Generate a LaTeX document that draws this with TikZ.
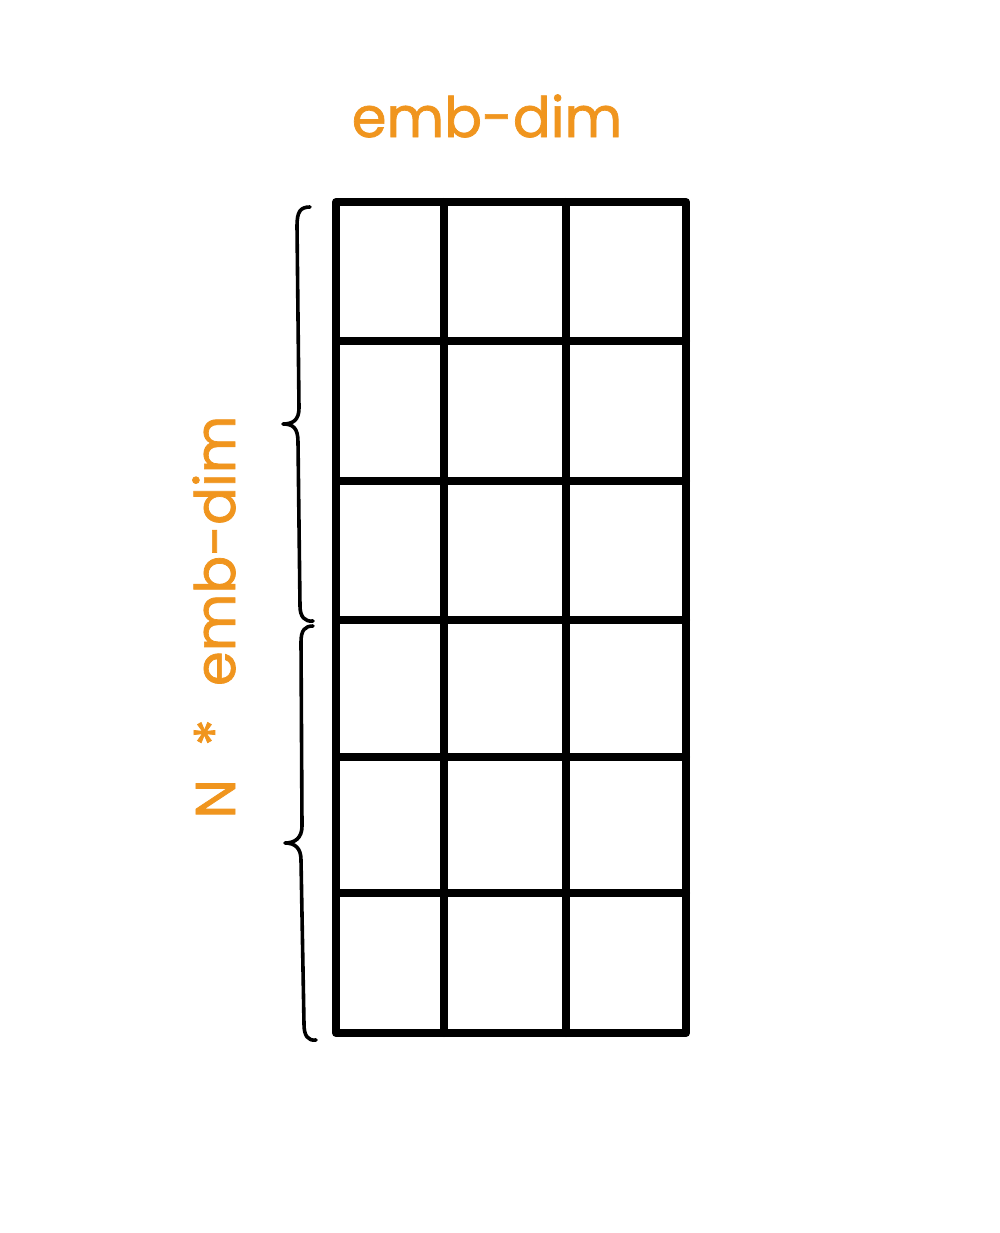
\documentclass[tikz,border=0pt]{standalone}
\usepackage{fontspec}
\newfontfamily\handfont{Poppins}[UprightFeatures={FakeBold=1.3}]
\definecolor{hand}{HTML}{F0951E}
\begin{document}
\begin{tikzpicture}[x=1pt,y=-1pt,
  gridline/.style={line width=8pt,line cap=round,line join=round},
  bracepath/.style={line width=3.6pt,line cap=round,line join=round},
  label/.style={text=hand,font=\handfont\fontsize{56}{66}\selectfont,inner sep=0pt}]
\useasboundingbox[fill=white] (0,0) rectangle (999,1233);
% grid
\coordinate (g00) at (336,202);
\coordinate (g11) at (686,1033);
\draw[gridline] (g00) rectangle (g11);
\foreach \x in {444,566} \draw[gridline] (\x,202) -- (\x,1033);
\foreach \y in {341,481,620,757,893} \draw[gridline] (336,\y) -- (686,\y);
% braces
\coordinate (b1t) at (310,207);
\coordinate (b1c) at (283,424);
\coordinate (b1b) at (313,621);
\coordinate (b2t) at (313,626);
\coordinate (b2c) at (285,843);
\coordinate (b2b) at (316,1040);
\draw[bracepath] (b1t) .. controls (300,207) and (297,212) .. (297,226)
  -- (299,408) .. controls (299,420) and (293,424) .. (b1c)
  .. controls (293,424) and (298,428) .. (298,442)
  -- (300,606) .. controls (300,617) and (305,622) .. (b1b);
\draw[bracepath] (b2t) .. controls (305,626) and (301,630) .. (301,642)
  -- (302,826) .. controls (302,838) and (295,843) .. (b2c)
  .. controls (295,843) and (301,848) .. (301,860)
  -- (304,1024) .. controls (304,1036) and (308,1041) .. (b2b);
% labels
\node[label] (top) at (487,116) {emb-dim};
\node[label,rotate=90] (side) at (214,617) {N\hspace{18pt} *\hspace{18pt} emb-dim};
\end{tikzpicture}
\end{document}
